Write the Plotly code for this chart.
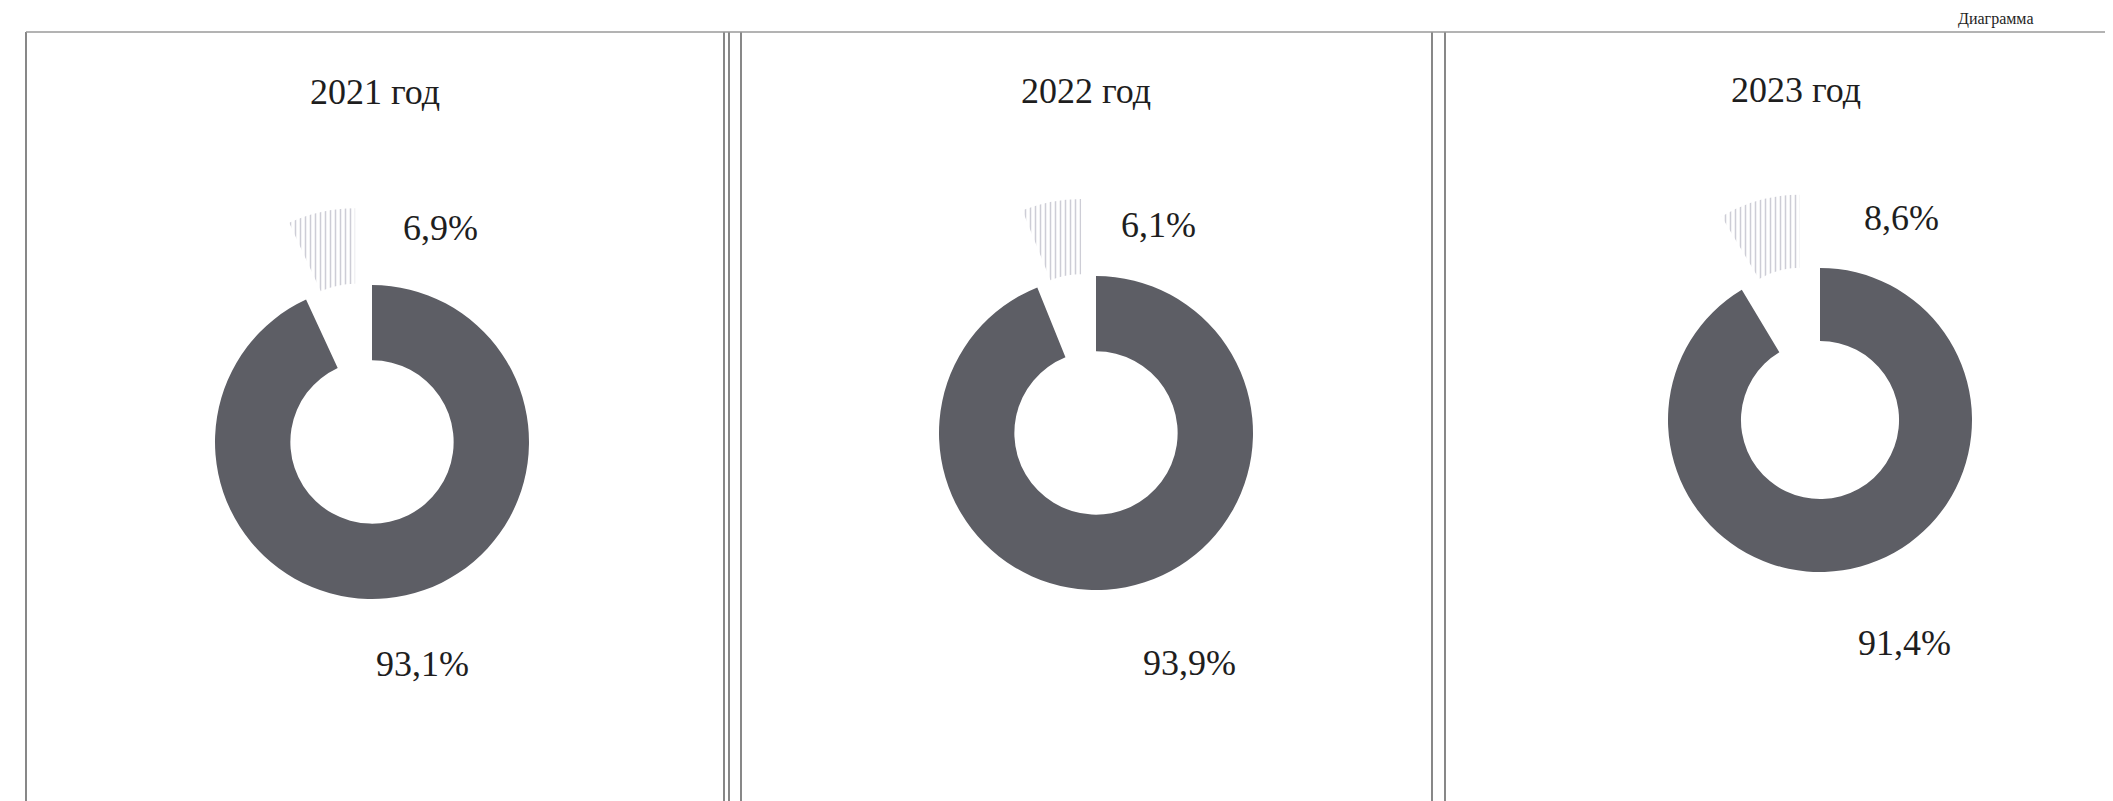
import plotly.graph_objects as go

# ---- data ----
years = ["2021 год", "2022 год", "2023 год"]
main_share = [93.1, 93.9, 91.4]
other_share = [6.9, 6.1, 8.6]
header_text = "Диаграмма"

# ---- geometry (pixels) ----
W, H = 2113, 801
centers = [(364, 434), (1088, 425), (1812, 412)]
radii = [157, 157, 152]
PULL = 0.5
title_pos = [(367, 84), (1078, 83), (1788, 82)]
small_lbl_pos = [(432, 220), (1150, 217), (1893, 210)]
big_lbl_pos = [(414, 656), (1181, 655), (1896, 635)]

FONT = "Liberation Serif"
DARK = "#5d5e65"


def fmt(v):
    return f"{v:.1f}".replace(".", ",") + "%"


def px_x(x):
    return x / W


def px_y(y):
    return 1 - y / H


fig = go.Figure()

for i in range(len(years)):
    cx, cy = centers[i]
    half = radii[i] * (1 + PULL)
    fig.add_trace(go.Pie(
        values=[main_share[i], other_share[i]],
        labels=["main", "other"],
        sort=False,
        direction="clockwise",
        rotation=0,
        hole=0.52,
        pull=[0, PULL],
        textinfo="none",
        hoverinfo="skip",
        showlegend=False,
        marker=dict(
            colors=[DARK, "#f7f7f9"],
            line=dict(width=0),
            pattern=dict(shape=["", "|"], fgcolor=[DARK, "#cdcdd6"],
                         size=5, solidity=0.3),
        ),
        domain=dict(x=[px_x(cx - half), px_x(cx + half)],
                    y=[px_y(cy + half), px_y(cy - half)]),
    ))

annotations = []
for i in range(len(years)):
    for (pos, txt) in [(title_pos[i], years[i]),
                       (small_lbl_pos[i], fmt(other_share[i])),
                       (big_lbl_pos[i], fmt(main_share[i]))]:
        annotations.append(dict(
            x=px_x(pos[0]), y=px_y(pos[1]), xref="paper", yref="paper",
            text=txt, showarrow=False, xanchor="center", yanchor="middle",
            font=dict(family=FONT, size=36, color="#1e1e1e"),
        ))

# small header at the top-right edge (only a fragment is visible in the scan)
annotations.append(dict(
    x=px_x(1948), y=px_y(11), xref="paper", yref="paper", text=header_text,
    showarrow=False, xanchor="left", yanchor="middle",
    font=dict(family=FONT, size=16, color="#1e1e1e"),
))

shapes = []
line_style = dict(color="#6a6a6a", width=1.6)
for x in [18, 716, 721, 733, 1424, 1437]:
    shapes.append(dict(type="line", xref="paper", yref="paper",
                       x0=px_x(x), x1=px_x(x), y0=0, y1=px_y(24),
                       line=line_style))
shapes.append(dict(type="line", xref="paper", yref="paper",
                   x0=px_x(18), x1=1, y0=px_y(24), y1=px_y(24),
                   line=dict(color="#9a9a9a", width=1.6)))

fig.update_layout(
    width=W, height=H,
    margin=dict(l=0, r=0, t=0, b=0),
    paper_bgcolor="white", plot_bgcolor="white",
    annotations=annotations, shapes=shapes,
)

fig.write_html("out.html")
